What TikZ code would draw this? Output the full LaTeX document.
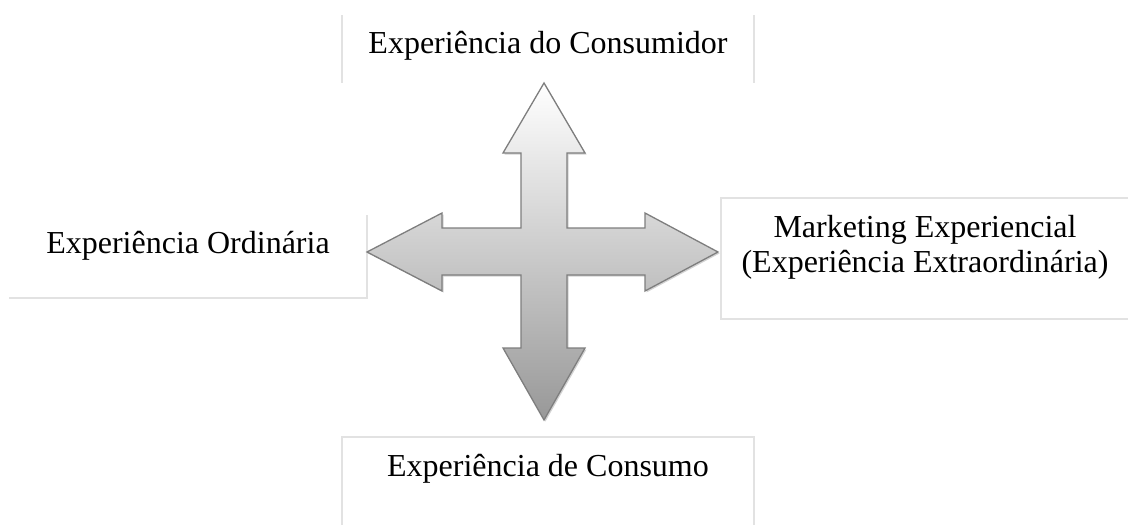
\documentclass[tikz,border=0pt]{standalone}
\usepackage{fontspec}
\setmainfont{Liberation Serif}
\usetikzlibrary{shadows}
\definecolor{boxgray}{HTML}{E2E2E2}
\definecolor{arrowedge}{HTML}{7E7E7E}
\definecolor{arrowbot}{HTML}{989898}
\tikzset{
  lbl/.style={inner sep=0pt, font=\fontsize{32}{35}\selectfont, text=black, align=center},
  boxline/.style={draw=boxgray, line width=1.6pt},
  crossarrow/.style={draw=arrowedge, line width=1.3pt, line join=miter,
    top color=white, bottom color=arrowbot,
    drop shadow={shadow xshift=1.5pt, shadow yshift=-1.5pt, opacity=0.35, fill=gray}}
}
\begin{document}
\begin{tikzpicture}[x=1pt,y=-1pt]
\useasboundingbox (0,0) rectangle (1128,525);
% boxes (as empty rectangle nodes)
\node[draw=none, inner sep=0pt, minimum width=412pt, minimum height=68pt] (tb) at (548,49) {};
\node[draw=none, inner sep=0pt, minimum width=358pt, minimum height=83pt] (lb) at (188,256.5) {};
\node[draw=none, inner sep=0pt, minimum width=407pt, minimum height=121pt] (rb) at (924.5,258.5) {};
\node[draw=none, inner sep=0pt, minimum width=412pt, minimum height=100pt] (bb) at (548,487) {};
\draw[boxline] (tb.north west) -- (tb.south west);
\draw[boxline] (tb.north east) -- (tb.south east);
\draw[boxline] (lb.north east) -- (lb.south east) -- (lb.south west);
\draw[boxline] (rb.north east) -- (rb.north west) -- (rb.south west) -- (rb.south east);
\draw[boxline] (bb.south west) -- (bb.north west) -- (bb.north east) -- (bb.south east);
% labels
\node[lbl, anchor=base] (t1) at (548,53) {Experiência do Consumidor};
\node[lbl, anchor=base] (t2) at (188,253) {Experiência Ordinária};
\node[lbl, anchor=base] (t3) at (925,272) {Marketing Experiencial\\(Experiência Extraordinária)};
\node[lbl, anchor=base] (t4) at (548,476) {Experiência de Consumo};
% four-way arrow
\path[crossarrow] (544,83) -- (585,153) -- (567,153) -- (567,228) -- (645,228) -- (645,213)
  -- (718,252) -- (645,291) -- (645,275) -- (567,275) -- (567,348) -- (585,348)
  -- (544,420) -- (503,348) -- (521,348) -- (521,275) -- (442,275) -- (442,291)
  -- (367,252) -- (442,213) -- (442,228) -- (521,228) -- (521,153) -- (503,153) -- cycle;
\end{tikzpicture}
\end{document}
